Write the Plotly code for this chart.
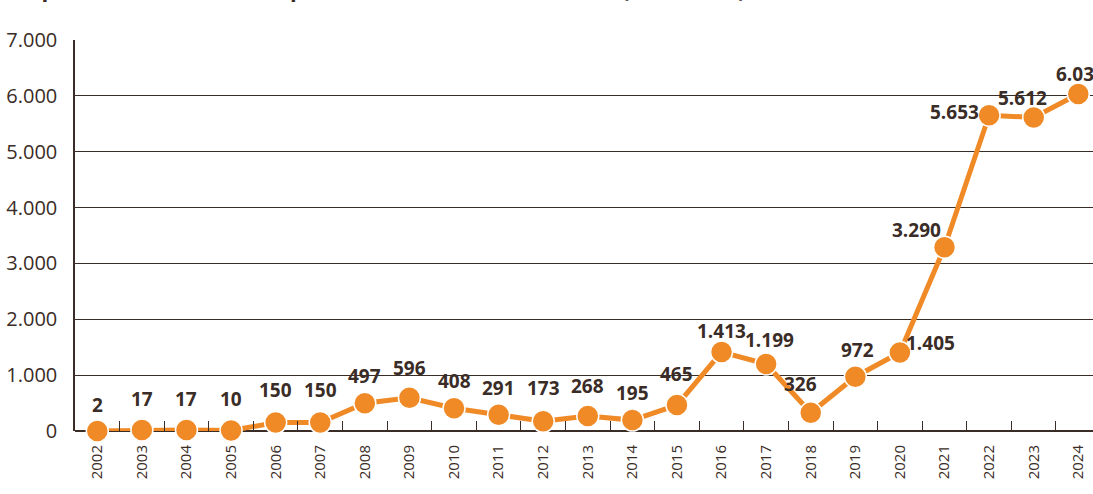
import plotly.graph_objects as go

years = [str(y) for y in range(2002, 2025)]
values = [2, 17, 17, 10, 150, 150, 497, 596, 408, 291, 173, 268, 195, 465,
          1413, 1199, 326, 972, 1405, 3290, 5653, 5612, 6032]
y_ticks = [0, 1000, 2000, 3000, 4000, 5000, 6000, 7000]

title_text = "Superficie destinada a la plantación de nuevos cultivos (hectáreas)"

# label offsets (pixels) relative to each point
label_dx = [0, 0, 0, 0, 0, 0, 0, 0, 0, 0, 0, 0, 0, 0, 0, 3, -10, 2, 31, -28, -35, -11, 2]
label_dy = [26, 31, 31, 31, 33, 33, 27, 30, 27, 27, 33, 30, 27, 31, 21, 24, 29, 27, 10, 17, 3, 20, 20]

ORANGE = "#EF8A27"
DARK = "#3a2c26"

fig = go.Figure()
fig.add_trace(go.Scatter(
    x=years, y=values, mode="lines+markers",
    line=dict(color=ORANGE, width=5),
    marker=dict(color=ORANGE, size=22, line=dict(color="white", width=1.5)),
    hoverinfo="x+y", showlegend=False, cliponaxis=False,
))

for i, (v, dx, dy) in enumerate(zip(values, label_dx, label_dy)):
    fig.add_annotation(
        x=i, y=v, xref="x", yref="y", text=f"{v:,}".replace(",", "."),
        showarrow=False, xshift=dx, yshift=dy,
        font=dict(family="Liberation Sans Narrow, Open Sans, sans-serif", size=19, color=DARK, weight="bold"),
    )

fig.add_annotation(
    x=0, y=1, xref="paper", yref="paper", xanchor="left", yanchor="bottom",
    xshift=-62, yshift=35, text=title_text, showarrow=False,
    font=dict(family="Liberation Sans Narrow, Open Sans, sans-serif", size=22, color=DARK, weight="bold"),
)

fig.update_layout(
    width=1093, height=494,
    margin=dict(l=75, r=0, t=40, b=63),
    plot_bgcolor="white", paper_bgcolor="white",
    separators=",.",
    xaxis=dict(
        type="category", range=[-0.5, 22.33], automargin=False,
        showgrid=False, showline=False, zeroline=False,
        ticks="inside", tickson="boundaries", ticklen=10, tickwidth=1.2, tickcolor=DARK,
        tickangle=-90, ticklabelstandoff=10,
        tickfont=dict(family="Open Sans, sans-serif", size=15, color=DARK),
    ),
    yaxis=dict(
        range=[0, 7000], tickvals=y_ticks, tickformat=",d", automargin=False,
        showgrid=True, gridcolor=DARK, gridwidth=1.2,
        zeroline=True, zerolinecolor=DARK, zerolinewidth=1.5,
        showline=True, linecolor=DARK, linewidth=1.5,
        ticks="", ticklabelstandoff=12,
        tickfont=dict(family="Open Sans, sans-serif", size=20, color=DARK),
    ),
)

fig.write_html("out.html", config={"displayModeBar": False},
               post_script="document.body.style.margin='0px';")
